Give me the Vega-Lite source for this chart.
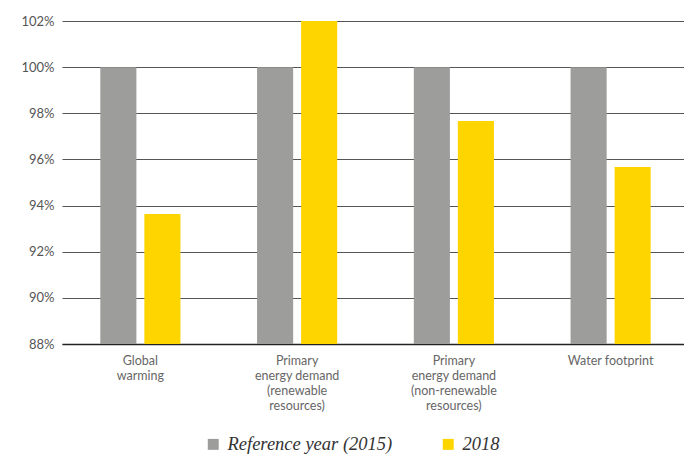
{
  "$schema": "https://vega.github.io/schema/vega-lite/v6.json",
  "width": 622,
  "height": 323,
  "autosize": "none",
  "padding": {"left": 62, "top": 21, "right": 0, "bottom": 112},
  "background": "white",
  "data": {
    "values": [
      {"category": "Global|warming", "series": "Reference year (2015)", "value": 100},
      {"category": "Global|warming", "series": "2018", "value": 93.63},
      {"category": "Primary|energy demand|(renewable|resources)", "series": "Reference year (2015)", "value": 100},
      {"category": "Primary|energy demand|(renewable|resources)", "series": "2018", "value": 102},
      {"category": "Primary|energy demand|(non-renewable|resources)", "series": "Reference year (2015)", "value": 100},
      {"category": "Primary|energy demand|(non-renewable|resources)", "series": "2018", "value": 97.67},
      {"category": "Water footprint", "series": "Reference year (2015)", "value": 100},
      {"category": "Water footprint", "series": "2018", "value": 95.67}
    ]
  },
  "mark": {"type": "bar", "clip": true},
  "encoding": {
    "x": {
      "field": "category",
      "type": "nominal",
      "sort": null,
      "scale": {"paddingInner": 0, "paddingOuter": 0, "range": [0, 627]},
      "axis": {
        "title": null,
        "labelAngle": 0,
        "labelExpr": "split(datum.label, '|')",
        "labelFont": "Lato",
        "labelFontSize": 12.5,
        "labelColor": "#666666",
        "labelLineHeight": 15,
        "labelPadding": 10,
        "ticks": false,
        "domainColor": "#222222",
        "domainWidth": 1.5,
        "labelLimit": 200
      }
    },
    "xOffset": {
      "field": "series",
      "type": "nominal",
      "sort": ["Reference year (2015)", "2018"],
      "scale": {"paddingInner": 0.18, "paddingOuter": 0.87}
    },
    "y": {
      "field": "value",
      "type": "quantitative",
      "scale": {"domain": [88, 102], "nice": false, "zero": false},
      "axis": {
        "title": null,
        "values": [88, 90, 92, 94, 96, 98, 100, 102],
        "labelExpr": "datum.value + '%'",
        "labelFont": "Lato",
        "labelFontSize": 13,
        "labelColor": "#555555",
        "labelPadding": 8,
        "ticks": false,
        "domain": false,
        "grid": true,
        "gridColor": "#555555",
        "gridWidth": 1
      }
    },
    "color": {
      "field": "series",
      "type": "nominal",
      "sort": ["Reference year (2015)", "2018"],
      "scale": {"domain": ["Reference year (2015)", "2018"], "range": ["#9d9d9b", "#ffd500"]},
      "legend": {
        "title": null,
        "orient": "none",
        "legendX": 142,
        "legendY": 414,
        "direction": "horizontal",
        "symbolType": "square",
        "symbolSize": 120,
        "symbolStrokeWidth": 0,
        "labelFont": "Liberation Serif",
        "labelFontStyle": "italic",
        "labelFontSize": 18.5,
        "labelColor": "#333333",
        "columnPadding": 46,
        "labelOffset": 5,
        "labelLimit": 300
      }
    }
  },
  "config": {"view": {"stroke": null}}
}
